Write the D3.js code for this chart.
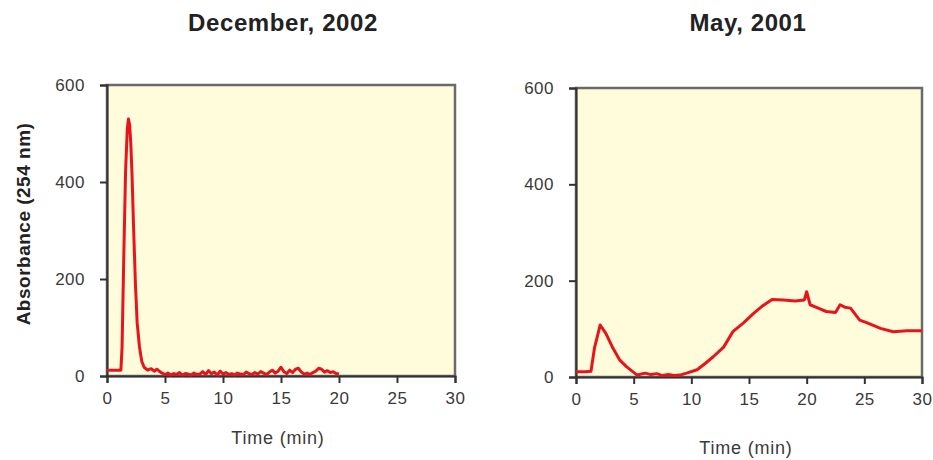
<!DOCTYPE html>
<meta charset="utf-8">
<html>
<head>
<script src="https://d3js.org/d3.v7.min.js"></script>
<style>
    body { margin: 0; background: #fff; font-family: "Liberation Sans", Arial, sans-serif; }
    .tick text { fill: #3a3a3a; font-size: 17px; letter-spacing: 0.5px; font-family: "Liberation Sans", Arial, sans-serif; }
</style>
</head>
<body>
<svg id="chart"></svg>
<script>

var width = 933
var height = 460

// December, 2002 chromatogram (time in min, absorbance)
var decTime = [0, 0.5, 1.0, 1.2, 1.3, 1.45, 1.6, 1.75, 1.85, 1.95, 2.05, 2.15, 2.3, 2.45, 2.6, 2.8, 3.0, 3.2,
    3.5, 3.8, 4.1, 4.3, 4.6, 5.0, 5.25, 5.5, 5.75, 6.0, 6.25, 6.5, 6.75, 7.0, 7.25, 7.5, 7.75, 8.0, 8.25,
    8.5, 8.75, 9.0, 9.25, 9.5, 9.75, 10.0, 10.25, 10.5, 10.75, 11.0, 11.25, 11.5, 11.75, 12.0, 12.25, 12.5,
    12.75, 13.0, 13.25, 13.5, 13.75, 14.0, 14.25, 14.5, 14.75, 15.0, 15.25, 15.5, 15.75, 16.0, 16.25, 16.5,
    16.75, 17.0, 17.25, 17.5, 17.75, 18.0, 18.25, 18.5, 18.75, 19.0, 19.25, 19.5, 19.75, 20.0]
var decAbs = [12, 12, 12, 12, 60, 250, 420, 510, 530, 518, 480, 420, 300, 190, 110, 60, 30, 18,
    12, 15, 10, 14, 8, 3, 6, 2, 5, 3, 7, 2, 5, 4, 2, 6, 3, 4, 9,
    3, 11, 5, 8, 2, 10, 4, 7, 3, 5, 2, 6, 4, 3, 8, 5, 3,
    7, 4, 9, 6, 3, 8, 12, 6, 10, 18, 9, 5, 12, 7, 14, 16,
    8, 4, 6, 3, 7, 10, 16, 14, 8, 11, 7, 9, 5, 4]

// May, 2001 chromatogram
var mayTime = [0, 0.8, 1.3, 1.6, 2.1, 2.6, 3.2, 3.8, 4.4, 5.3, 6.0, 6.5, 7.0, 7.5, 8.0, 8.5, 9.0, 9.6, 10.5,
    11.2, 11.9, 12.8, 13.6, 14.5, 15.4, 16.2, 17.0, 18.0, 19.0, 19.8, 20.0, 20.3, 21.0, 21.7, 22.5, 22.9,
    23.3, 23.8, 24.6, 25.2, 26.4, 27.5, 28.7, 30.0]
var mayAbs = [11, 11, 12, 60, 108, 90, 60, 35, 21, 4, 8, 5, 7, 3, 5, 3, 4, 8, 15,
    28, 42, 62, 94, 112, 132, 148, 161, 160, 158, 160, 177, 150, 143, 136, 134, 150,
    145, 143, 118, 113, 101, 94, 96, 96]

var yTicks = [0, 200, 400, 600]
var xTicks = [0, 5, 10, 15, 20, 25, 30]

var panels = [
    {title: "December, 2002", time: decTime, abs: decAbs, left: 107, right: 455, top: 85, bottom: 376, titleX: 283, xTitleY: 444, yTitle: true},
    {title: "May, 2001", time: mayTime, abs: mayAbs, left: 576, right: 922, top: 88, bottom: 377, titleX: 748, xTitleY: 454, yTitle: false}
]

var svg = d3.select("#chart")
    .attr("width", width)
    .attr("height", height)

panels.forEach(function(p) {
    var x = d3.scaleLinear().domain([0, 30]).range([p.left, p.right])
    var y = d3.scaleLinear().domain([0, 600]).range([p.bottom, p.top])
    var g = svg.append("g")

    // plot background
    g.append("rect")
        .attr("x", p.left)
        .attr("y", p.top)
        .attr("width", p.right - p.left)
        .attr("height", p.bottom - p.top)
        .attr("fill", "#fefcdb")
        .attr("stroke", "#6a6a6a")
        .attr("stroke-width", 2.5)

    // axes
    g.append("g")
        .attr("transform", "translate(0," + p.bottom + ")")
        .call(d3.axisBottom(x).tickValues(xTicks).tickSize(7).tickPadding(9))
        .call(a => a.selectAll("line,path").attr("stroke", "#333").attr("stroke-width", 2))

    g.append("g")
        .attr("transform", "translate(" + p.left + ",0)")
        .call(d3.axisLeft(y).tickValues(yTicks).tickSize(7).tickPadding(15))
        .call(a => a.selectAll("line,path").attr("stroke", "#333").attr("stroke-width", 2))

    // trace
    g.append("path")
        .datum(d3.zip(p.time, p.abs))
        .attr("fill", "none")
        .attr("stroke", "#e8141c")
        .attr("stroke-width", 3)
        .attr("stroke-linejoin", "round")
        .attr("d", d3.line().x(d => x(d[0])).y(d => y(d[1])))

    // titles
    g.append("text")
        .attr("x", p.titleX)
        .attr("y", 31)
        .attr("text-anchor", "middle")
        .attr("font-size", "24px")
        .attr("font-weight", "bold")
        .attr("letter-spacing", "0.6px")
        .attr("fill", "#222")
        .text(p.title)

    g.append("text")
        .attr("x", (p.left + p.right) / 2 - 3)
        .attr("y", p.xTitleY)
        .attr("text-anchor", "middle")
        .attr("font-size", "18px")
        .attr("letter-spacing", "0.8px")
        .attr("fill", "#3a3a3a")
        .text("Time (min)")

    if (p.yTitle) {
        g.append("text")
            .attr("transform", "translate(30,224) rotate(-90)")
            .attr("text-anchor", "middle")
            .attr("font-size", "19px")
            .attr("font-weight", "bold")
            .attr("letter-spacing", "0.5px")
            .attr("fill", "#222")
            .text("Absorbance (254 nm)")
    }
})
</script>
</body>
</html>
